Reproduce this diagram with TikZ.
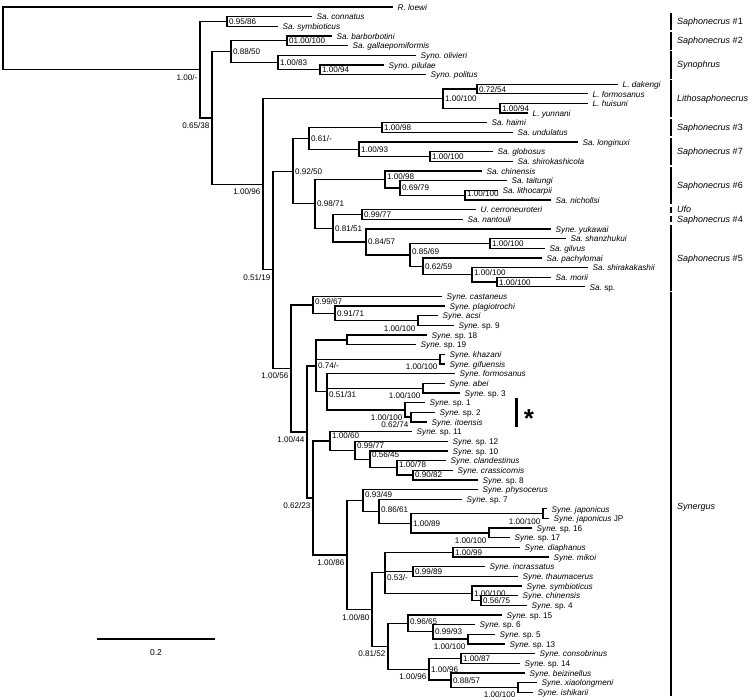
\documentclass[tikz,border=0pt]{standalone}
\usepackage{fontspec}
\setmainfont{Liberation Sans}
\usetikzlibrary{calc}
\frenchspacing
\newcommand\mkleaf[3]{%
  \coordinate (l#1) at (#2,{7+(#1-1)*9.65});
  \node[leaf] (l#1t) at ([xshift=4.5pt,yshift=-3.2pt]l#1) {#3};}
\newcommand\mknode[4]{%
  \coordinate (#1m) at ($(#3)!0.5!(#4)$);
  \path let \p1=(#1m) in (#2pt,\y1) coordinate (#1);
  \draw[br] (#3) -| (#1) |- (#4);}
\newcommand\mknodeiii[5]{%
  \mknode{#1}{#2}{#3}{#5}
  \draw[br] (#1 |- #4) -- (#4);}
\newcommand\labr[3]{\node[sup,anchor=base west] (#1r) at ([xshift=1.8pt,yshift={-(3+(#2))*1pt}]#1) {#3};}
\newcommand\labb[2]{\node[sup,anchor=base east] (#1b) at ([xshift=-2.5pt,yshift=-10.5pt]#1) {#2};}
\begin{document}
\begin{tikzpicture}[x=1pt,y=-1pt,
  br/.style={line width=1.3pt,black},
  cbar/.style={line width=1.6pt,black},
  leaf/.style={anchor=base west,inner sep=0pt,font=\fontsize{8.2}{9}\selectfont},
  sup/.style={inner sep=0pt,font=\fontsize{8.1}{9}\selectfont},
  grp/.style={anchor=base west,inner sep=0pt,font=\fontsize{9}{10}\selectfont}]
\useasboundingbox (0,0) rectangle (755,700);
% leaves
\mkleaf{1}{393}{\textit{R. loewi}}
\mkleaf{2}{312}{\textit{Sa. connatus}}
\mkleaf{3}{278}{\textit{Sa. symbioticus}}
\mkleaf{4}{332}{\textit{Sa. barborbotini}}
\mkleaf{5}{348}{\textit{Sa. gallaepomiformis}}
\mkleaf{6}{416}{\textit{Syno. olivieri}}
\mkleaf{7}{384}{\textit{Syno. pilulae}}
\mkleaf{8}{426}{\textit{Syno. politus}}
\mkleaf{9}{618}{\textit{L. dakengi}}
\mkleaf{10}{588}{\textit{L. formosanus}}
\mkleaf{11}{588}{\textit{L. huisuni}}
\mkleaf{12}{528}{\textit{L. yunnani}}
\mkleaf{13}{487}{\textit{Sa. haimi}}
\mkleaf{14}{513}{\textit{Sa. undulatus}}
\mkleaf{15}{578}{\textit{Sa. longinuxi}}
\mkleaf{16}{493}{\textit{Sa. globosus}}
\mkleaf{17}{513}{\textit{Sa. shirokashicola}}
\mkleaf{18}{482}{\textit{Sa. chinensis}}
\mkleaf{19}{507}{\textit{Sa. taitungi}}
\mkleaf{20}{498}{\textit{Sa. lithocarpii}}
\mkleaf{21}{551}{\textit{Sa. nichollsi}}
\mkleaf{22}{476}{\textit{U. cerroneuroteri}}
\mkleaf{23}{463}{\textit{Sa. nantouli}}
\mkleaf{24}{551}{\textit{Syne. yukawai}}
\mkleaf{25}{566}{\textit{Sa. shanzhukui}}
\mkleaf{26}{545}{\textit{Sa. gilvus}}
\mkleaf{27}{542}{\textit{Sa. pachylomai}}
\mkleaf{28}{588}{\textit{Sa. shirakakashii}}
\mkleaf{29}{551}{\textit{Sa. morii}}
\mkleaf{30}{585}{\textit{Sa.} sp.}
\mkleaf{31}{442}{\textit{Syne. castaneus}}
\mkleaf{32}{445}{\textit{Syne. plagiotrochi}}
\mkleaf{33}{438}{\textit{Syne. acsi}}
\mkleaf{34}{454}{\textit{Syne.} sp. 9}
\mkleaf{35}{427}{\textit{Syne.} sp. 18}
\mkleaf{36}{416}{\textit{Syne.} sp. 19}
\mkleaf{37}{445}{\textit{Syne. khazani}}
\mkleaf{38}{445}{\textit{Syne. gifuensis}}
\mkleaf{39}{455}{\textit{Syne. formosanus}}
\mkleaf{40}{445}{\textit{Syne. abei}}
\mkleaf{41}{460}{\textit{Syne.} sp. 3}
\mkleaf{42}{425}{\textit{Syne.} sp. 1}
\mkleaf{43}{435}{\textit{Syne.} sp. 2}
\mkleaf{44}{427}{\textit{Syne. itoensis}}
\mkleaf{45}{412}{\textit{Syne.} sp. 11}
\mkleaf{46}{448}{\textit{Syne.} sp. 12}
\mkleaf{47}{448}{\textit{Syne.} sp. 10}
\mkleaf{48}{446}{\textit{Syne. clandestinus}}
\mkleaf{49}{453}{\textit{Syne. crassicornis}}
\mkleaf{50}{478}{\textit{Syne.} sp. 8}
\mkleaf{51}{478}{\textit{Syne. physocerus}}
\mkleaf{52}{462}{\textit{Syne.} sp. 7}
\mkleaf{53}{547}{\textit{Syne. japonicus}}
\mkleaf{54}{549}{\textit{Syne. japonicus} JP}
\mkleaf{55}{532}{\textit{Syne.} sp. 16}
\mkleaf{56}{510}{\textit{Syne.} sp. 17}
\mkleaf{57}{520}{\textit{Syne. diaphanus}}
\mkleaf{58}{549}{\textit{Syne. mikoi}}
\mkleaf{59}{485}{\textit{Syne. incrassatus}}
\mkleaf{60}{518}{\textit{Syne. thaumacerus}}
\mkleaf{61}{522}{\textit{Syne. symbioticus}}
\mkleaf{62}{518}{\textit{Syne. chinensis}}
\mkleaf{63}{527}{\textit{Syne.} sp. 4}
\mkleaf{64}{502}{\textit{Syne.} sp. 15}
\mkleaf{65}{475}{\textit{Syne.} sp. 6}
\mkleaf{66}{495}{\textit{Syne.} sp. 5}
\mkleaf{67}{505}{\textit{Syne.} sp. 13}
\mkleaf{68}{535}{\textit{Syne. consobrinus}}
\mkleaf{69}{520}{\textit{Syne.} sp. 14}
\mkleaf{70}{525}{\textit{Syne. beizinellus}}
\mkleaf{71}{537}{\textit{Syne. xiaolongmeni}}
\mkleaf{72}{533}{\textit{Syne. ishikarii}}
% internal nodes
\mknode{sa1}{227}{l2}{l3}
\mknode{sa2}{287}{l4}{l5}
\mknode{syno2}{320}{l7}{l8}
\mknode{syno}{278}{l6}{syno2}
\mknode{n231}{231}{sa2}{syno}
\mknode{lit1}{477}{l9}{l10}
\mknode{lit2}{500}{l11}{l12}
\mknode{lit}{443}{lit1}{lit2}
\mknode{sa3}{382}{l13}{l14}
\mknode{sa7b}{430}{l16}{l17}
\mknode{sa7}{359}{l15}{sa7b}
\mknode{dd}{309}{sa3}{sa7}
\mknode{sa6c}{465}{l20}{l21}
\mknode{sa6b}{400}{l19}{sa6c}
\mknode{sa6}{385}{l18}{sa6b}
\mknode{ufo}{362}{l22}{l23}
\mknode{kk}{490}{l25}{l26}
\mknode{mm}{497}{l29}{l30}
\mknode{ll}{472}{l28}{mm}
\mknode{jj}{423}{l27}{ll}
\mknode{hh}{410}{kk}{jj}
\mknode{gg}{366}{l24}{hh}
\mknode{ff}{333}{ufo}{gg}
\mknode{ee}{315}{sa6}{ff}
\mknode{cc}{293}{dd}{ee}
\mknode{s91}{418}{l33}{l34}
\mknode{s71}{335}{l32}{s91}
\mknode{synA}{313}{l31}{s71}
\mknode{s1819}{347}{l35}{l36}
\mknode{khg}{440}{l37}{l38}
\mknode{ab3}{423}{l40}{l41}
\mknode{zz}{411}{l43}{l44}
\mknode{yy}{405}{l42}{zz}
\mknodeiii{ww}{327}{l39}{ab3}{yy}
\mknodeiii{vv}{316}{s1819}{khg}{ww}
\mknode{sp8}{413}{l49}{l50}
\mknode{s78}{397}{l48}{sp8}
\mknode{s45}{370}{l47}{s78}
\mknode{s77}{355}{l46}{s45}
\mknode{s60}{330}{l45}{s77}
\mknode{jap}{543}{l53}{l54}
\mknode{s1617}{489}{l55}{l56}
\mknode{s89}{411}{jap}{s1617}
\mknode{s61}{379}{l52}{s89}
\mknode{s49}{363}{l51}{s61}
\mknode{dm}{453}{l57}{l58}
\mknode{s89b}{413}{l59}{l60}
\mknode{s75}{481}{l62}{l63}
\mknode{sym}{472}{l61}{s75}
\mknodeiii{s53}{385}{dm}{s89b}{sym}
\mknode{s513}{468}{l66}{l67}
\mknode{s93}{433}{l65}{s513}
\mknode{s65}{408}{l64}{s93}
\mknode{s87}{461}{l68}{l69}
\mknode{xi}{518}{l71}{l72}
\mknode{s57}{451}{l70}{xi}
\mknode{tt}{429}{s87}{s57}
\mknode{s52}{388}{s65}{tt}
\mknode{s80}{372}{s53}{s52}
\mknode{s86}{347}{s49}{s80}
\mknode{s23}{313}{s60}{s86}
\mknode{synB}{307}{vv}{s23}
\mknode{syn}{291}{synA}{synB}
\mknode{bb}{273}{cc}{syn}
\mknode{aa}{263}{lit}{bb}
\mknode{n212}{212}{n231}{aa}
\mknode{ing}{200}{sa1}{n212}
\mknode{root}{3}{l1}{ing}
% support labels
\labr{sa1}{0}{0.95/86}
\labr{sa2}{0}{01.00/100}
\labr{syno2}{0}{1.00/94}
\labr{syno}{0}{1.00/83}
\labr{n231}{0}{0.88/50}
\labr{lit1}{0}{0.72/54}
\labr{lit2}{0}{1.00/94}
\labr{lit}{0}{1.00/100}
\labr{sa3}{0}{1.00/98}
\labr{sa7b}{0}{1.00/100}
\labr{sa7}{0}{1.00/93}
\labr{dd}{0}{0.61/-}
\labr{sa6c}{-2}{1.00/100}
\labr{sa6b}{0}{0.69/79}
\labr{sa6}{-3}{1.00/98}
\labr{ufo}{0}{0.99/77}
\labr{kk}{0}{1.00/100}
\labr{mm}{0}{1.00/100}
\labr{ll}{-2}{1.00/100}
\labr{jj}{0}{0.62/59}
\labr{hh}{-3}{0.85/69}
\labr{gg}{0}{0.84/57}
\labr{ff}{0}{0.81/51}
\labr{ee}{0}{0.98/71}
\labr{cc}{0}{0.92/50}
\labb{s91}{1.00/100}
\labr{s71}{0}{0.91/71}
\labr{synA}{-3}{0.99/67}
\labb{khg}{1.00/100}
\labb{ab3}{1.00/100}
\labb{zz}{0.62/74}
\labb{yy}{1.00/100}
\labr{ww}{3}{0.51/31}
\labr{vv}{0}{0.74/-}
\labr{sp8}{-1}{0.90/82}
\labr{s78}{-3}{1.00/78}
\labr{s45}{-5}{0.56/45}
\labr{s77}{-5}{0.99/77}
\labr{s60}{-5}{1.00/60}
\labb{jap}{1.00/100}
\labb{s1617}{1.00/100}
\labr{s89}{0}{1.00/89}
\labr{s61}{-2}{0.86/61}
\labr{s49}{-6}{0.93/49}
\labr{dm}{0}{1.00/99}
\labr{s89b}{0}{0.99/89}
\labr{s75}{0}{0.56/75}
\labr{sym}{0}{1.00/100}
\labr{s53}{5}{0.53/-}
\labb{s513}{1.00/100}
\labr{s93}{0}{0.99/93}
\labr{s65}{-2}{0.96/65}
\labr{s87}{0}{1.00/87}
\labb{xi}{1.00/100}
\labr{s57}{0}{0.88/57}
\labr{tt}{0}{1.00/96}
\labb{tt}{1.00/96}
\labb{s52}{0.81/52}
\labb{s80}{1.00/80}
\labb{s86}{1.00/86}
\labb{s23}{0.62/23}
\labb{synB}{1.00/44}
\labb{syn}{1.00/56}
\labb{bb}{0.51/19}
\labb{aa}{1.00/96}
\labb{n212}{0.65/38}
\labb{ing}{1.00/-}
% clade bars and names
\draw[cbar] (671,12.65) -- (671,30.3);
\node[grp] (g1) at (677,24.5) {\textit{Saphonecrus} \#1};
\draw[cbar] (671,31.95) -- (671,49.6);
\node[grp] (g2) at (677,43.8) {\textit{Saphonecrus} \#2};
\draw[cbar] (671,51.25) -- (671,78.55);
\node[grp] (g3) at (677,67.9) {\textit{Synophrus}};
\draw[cbar] (671,80.2) -- (671,117.15);
\node[grp] (g4) at (677,101.7) {\textit{Lithosaphonecrus}};
\draw[cbar] (671,118.8) -- (671,136.45);
\node[grp] (g5) at (677,130.6) {\textit{Saphonecrus} \#3};
\draw[cbar] (671,138.1) -- (671,165.4);
\node[grp] (g6) at (677,154.75) {\textit{Saphonecrus} \#7};
\draw[cbar] (671,167.05) -- (671,204);
\node[grp] (g7) at (677,188.5) {\textit{Saphonecrus} \#6};
\draw[cbar] (671,206.65) -- (671,212.65);
\node[grp] (g8) at (677,212.65) {\textit{Ufo}};
\draw[cbar] (671,216.3) -- (671,222.3);
\node[grp] (g9) at (677,222.3) {\textit{Saphonecrus} \#4};
\draw[cbar] (671,224.95) -- (671,290.85);
\node[grp] (g10) at (677,262) {\textit{Saphonecrus} \#5};
\draw[cbar] (671,292.5) -- (671,696.15);
\node[grp] (g11) at (677,509) {\textit{Synergus}};
% asterisk marker
\draw[line width=3pt] (516,398) -- (516,427);
\node[inner sep=0pt,anchor=north,font=\fontsize{26}{26}\selectfont\bfseries] (ast) at (529,409) {*};
% scale bar
\coordinate (sb1) at (97,639);
\coordinate (sb2) at (215,639);
\draw[line width=1.5pt] (sb1) -- (sb2);
\node[inner sep=0pt,font=\fontsize{8.5}{10}\selectfont] (sbl) at (156,653) {0.2};
\end{tikzpicture}
\end{document}
